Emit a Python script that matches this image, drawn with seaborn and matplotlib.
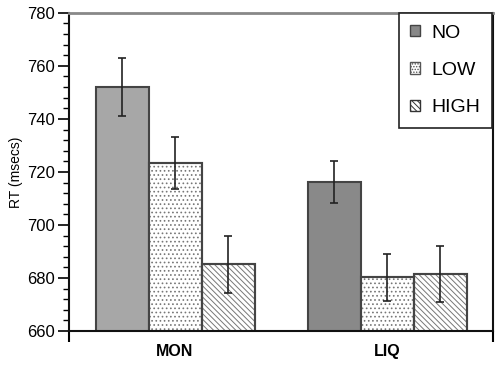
import matplotlib
matplotlib.use("Agg")
import matplotlib.pyplot as plt
import seaborn as sns
import pandas as pd
from matplotlib.patches import Patch
from matplotlib.ticker import MultipleLocator, FixedLocator

groups = ["MON", "LIQ"]
levels = ["NO", "LOW", "HIGH"]
mon_means = [752.0, 723.3, 685.2]
liq_means = [716.2, 680.2, 681.5]
mon_err = [11.0, 9.9, 10.7]
liq_err = [7.9, 8.9, 10.4]

rows = []
for g, means, errs in [("MON", mon_means, mon_err), ("LIQ", liq_means, liq_err)]:
    for lvl, m, e in zip(levels, means, errs):
        rows.append({"group": g, "level": lvl, "rt": m, "err": e})
df = pd.DataFrame(rows)

sns.set_style("ticks")
plt.rcParams["font.family"] = ["Liberation Sans", "DejaVu Sans"]
plt.rcParams["hatch.linewidth"] = 0.7
plt.rcParams["text.color"] = "black"
plt.rcParams["axes.labelcolor"] = "black"
plt.rcParams["xtick.color"] = "black"
plt.rcParams["ytick.color"] = "black"

fig = plt.figure(figsize=(5.0, 3.67), dpi=100)
ax = fig.add_axes([0.138, 0.098, 0.848, 0.867])

sns.barplot(data=df, x="group", y="rt", hue="level", order=groups,
            hue_order=levels, width=0.75, ax=ax, legend=False,
            palette=["#a8a8a8", "white", "white"], edgecolor="#444444",
            linewidth=1.5, errorbar=None)

no_colors = {"MON": "#a7a7a7", "LIQ": "#898989"}
hatches = {"NO": "", "LOW": "....", "HIGH": "\\\\\\\\\\\\"}
for lvl, cont in zip(levels, ax.containers):
    for g, bar in zip(groups, cont):
        bar.set_hatch(hatches[lvl])
        if lvl == "NO":
            bar.set_facecolor(no_colors[g])
        else:
            bar.set_edgecolor("#777777")
        sub = df[(df.group == g) & (df.level == lvl)].iloc[0]
        xc = bar.get_x() + bar.get_width() / 2
        ax.errorbar(xc, sub.rt, yerr=sub.err, color="#222222", lw=1.2,
                    capsize=3.2, capthick=1.2, zorder=5)
# darker outline over the hatched bars
for lvl, cont in zip(levels, ax.containers):
    if lvl == "NO":
        continue
    for bar in cont:
        r = plt.Rectangle((bar.get_x(), bar.get_y()), bar.get_width(), bar.get_height(),
                          fill=False, edgecolor="#444444", lw=1.5, zorder=bar.get_zorder() + 0.1)
        ax.add_patch(r)

ax.set_ylim(660, 780)
ax.set_xlim(-0.5, 1.5)
ax.yaxis.set_major_locator(MultipleLocator(20))
ax.yaxis.set_minor_locator(MultipleLocator(4))
ax.tick_params(axis="y", which="major", length=8, width=1.2, labelsize=12, pad=2)
ax.tick_params(axis="y", which="minor", length=4, width=1.0)
ax.xaxis.set_minor_locator(FixedLocator([-0.5, 1.5]))
ax.tick_params(axis="x", which="major", length=0, labelsize=11.5, pad=9)
ax.tick_params(axis="x", which="minor", length=8, width=1.5)
for t in ax.get_xticklabels():
    t.set_fontweight("bold")
ax.set_xlabel("")
ax.set_ylabel("RT (msecs)", fontsize=10, labelpad=3)

for s in ["left", "bottom", "right"]:
    ax.spines[s].set_visible(True)
    ax.spines[s].set_color("#111111")
    ax.spines[s].set_linewidth(1.5)
ax.spines["top"].set_visible(True)
ax.spines["top"].set_color("#888888")
ax.spines["top"].set_linewidth(2)

handles = [Patch(facecolor="#888888", edgecolor="#444444", label="NO"),
           Patch(facecolor="white", edgecolor="#555555", hatch="......", label="LOW"),
           Patch(facecolor="white", edgecolor="#333333", hatch="\\\\\\\\\\\\", label="HIGH")]
leg = ax.legend(handles=handles, loc="upper right", bbox_to_anchor=(0.998, 1.0),
                borderaxespad=0, fancybox=False, framealpha=1, edgecolor="#222222",
                fontsize=14, handlelength=0.5, handleheight=0.5, handletextpad=0.6,
                labelspacing=1.05, borderpad=0.6)
leg.get_frame().set_linewidth(1.2)
leg.set_zorder(10)

fig.savefig("out.png", dpi=100)
